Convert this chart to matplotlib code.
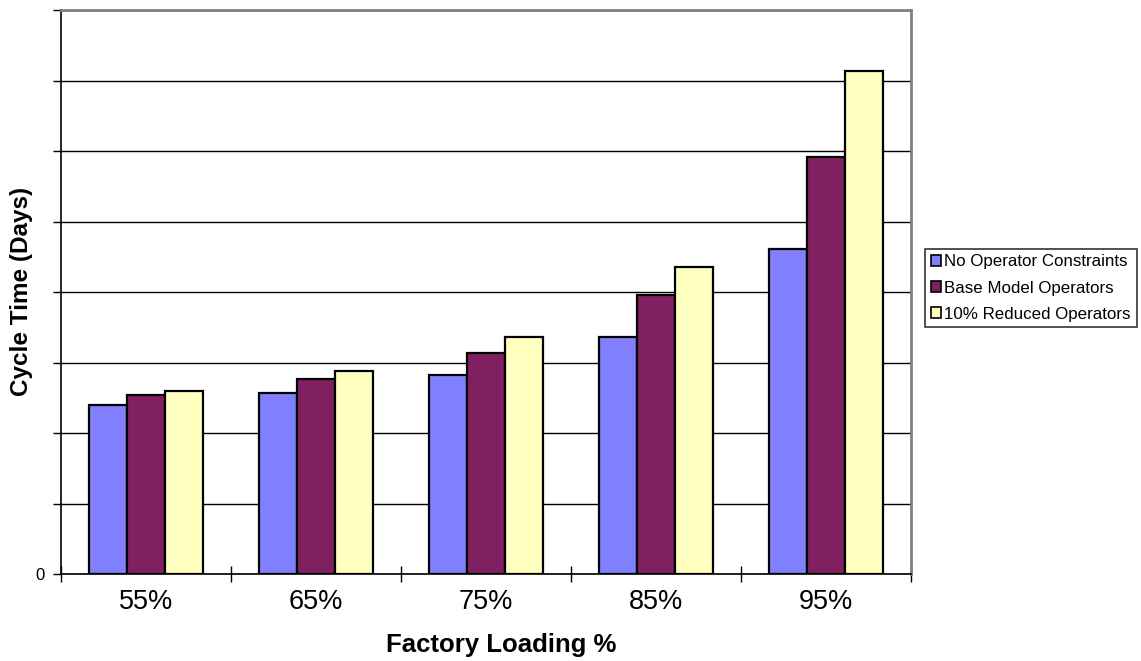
import numpy as np
import matplotlib.pyplot as plt
from matplotlib.patches import Patch

plt.rcParams['font.family'] = ['Liberation Sans', 'DejaVu Sans']

loading = ['55%', '65%', '75%', '85%', '95%']
no_constraints = [2.40, 2.57, 2.82, 3.36, 4.61]
base_model = [2.54, 2.77, 3.13, 3.96, 5.91]
reduced_10 = [2.60, 2.88, 3.36, 4.35, 7.13]

series = [
    ('No Operator Constraints', no_constraints, '#8080FF'),
    ('Base Model Operators', base_model, '#802060'),
    ('10% Reduced Operators', reduced_10, '#FFFFC0'),
]

fig = plt.figure(figsize=(11.41, 6.61), dpi=100)
ax = fig.add_axes([61 / 1141, 87 / 661, 850 / 1141, 564 / 661])

x = np.arange(len(loading))
w = 1 / 4.5
for i, (name, vals, col) in enumerate(series):
    ax.bar(x + (i - 1) * w, vals, width=w, color=col, edgecolor='black',
           linewidth=1.6, zorder=3)

ax.set_xlim(-0.5, len(loading) - 0.5)
ax.set_ylim(0, 8)
ax.set_yticks(np.arange(0, 9))
ax.set_yticklabels(['0'] + [''] * 8, fontsize=12)
ax.yaxis.grid(True, color='black', linewidth=1.0, zorder=0)
ax.tick_params(axis='y', direction='out', length=6, width=1, pad=6)

# category boundaries get the tick marks, labels sit in between
ax.set_xticks(np.arange(-0.5, len(loading), 1))
ax.set_xticklabels([])
ax.tick_params(axis='x', which='major', direction='inout', length=12, width=1)
ax.set_xticks(x, minor=True)
ax.set_xticklabels(loading, minor=True, fontsize=19.5)
ax.tick_params(axis='x', which='minor', length=0, pad=11)

for side in ['top', 'right']:
    ax.spines[side].set_color('#808080')
    ax.spines[side].set_linewidth(2)
ax.spines['left'].set_color('black')
ax.spines['bottom'].set_color('black')
ax.spines['left'].set_linewidth(1.2)
ax.spines['bottom'].set_linewidth(1.2)

fig.text(22 / 1141, 1 - 291 / 661, 'Cycle Time (Days)', rotation=90,
         fontsize=17.5, fontweight='bold', ha='center', va='center')
fig.text(501 / 1141, 1 - 645 / 661, 'Factory Loading %',
         fontsize=18.5, fontweight='bold', ha='center', va='center')

handles = [Patch(facecolor=c, edgecolor='black', linewidth=1.2, label=n)
           for n, _, c in series]
leg = fig.legend(handles=handles, loc='center left',
                 bbox_to_anchor=(925 / 1141, 1 - 288 / 661), fontsize=12.2,
                 frameon=True, fancybox=False, handlelength=0.6,
                 handleheight=0.6, handletextpad=0.2, labelspacing=0.65,
                 borderpad=0.35, borderaxespad=0)
leg.get_frame().set_edgecolor('black')
leg.get_frame().set_linewidth(1.2)

fig.savefig('out.png', dpi=100)
